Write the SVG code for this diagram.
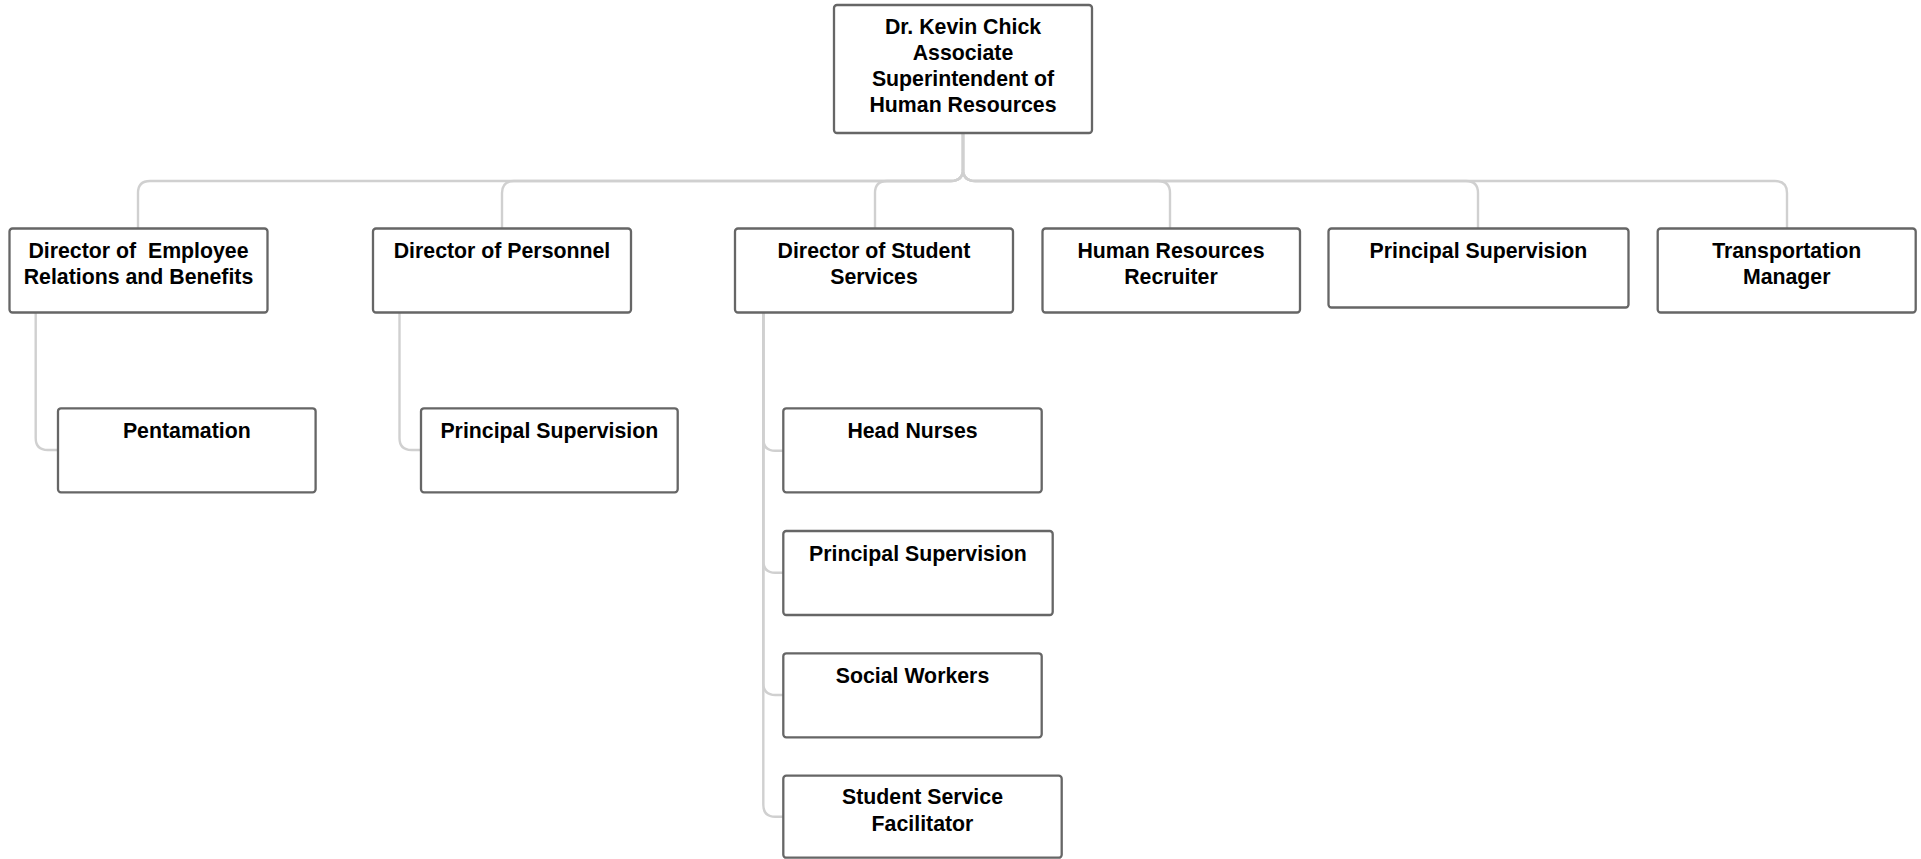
<svg xmlns="http://www.w3.org/2000/svg" width="1921" height="859" viewBox="0 0 1921 859">
<style>
.box{fill:#fff;stroke:#666;stroke-width:2.3}
.c{fill:none;stroke:#d0d0d0;stroke-width:2.4}
text{font-family:"Liberation Sans",Arial,sans-serif;font-weight:bold;font-size:21.3px;fill:#000;text-anchor:middle;white-space:pre}
</style>
<rect width="1921" height="859" fill="#fff"/>
<g id="connectors">
<path class="c" d="M963 133V169Q963 181 951 181H150Q138 181 138 193V228"/>
<path class="c" d="M963 133V169Q963 181 951 181H514Q502 181 502 193V228"/>
<path class="c" d="M963 133V169Q963 181 951 181H887Q875 181 875 193V228"/>
<path class="c" d="M963 133V169Q963 181 975 181H1158Q1170 181 1170 193V228"/>
<path class="c" d="M963 133V169Q963 181 975 181H1466Q1478 181 1478 193V228"/>
<path class="c" d="M963 133V169Q963 181 975 181H1775Q1787 181 1787 193V228"/>
<path class="c" d="M35.7 313V438Q35.7 450 47.7 450H58"/>
<path class="c" d="M399.5 313V438Q399.5 450 411.5 450H421"/>
<path class="c" d="M763.3 313V438.7Q763.3 450.7 775.3 450.7H783"/>
<path class="c" d="M763.3 313V560.7Q763.3 572.7 775.3 572.7H783"/>
<path class="c" d="M763.3 313V683Q763.3 695 775.3 695H783"/>
<path class="c" d="M763.3 313V804.7Q763.3 816.7 775.3 816.7H783"/>
</g>
<g id="n-top"><rect class="box" x="834" y="5" width="258" height="128" rx="3"/>
<text x="963" y="34.3">Dr. Kevin Chick</text><text x="963" y="60">Associate</text><text x="963" y="86">Superintendent of</text><text x="963" y="111.7">Human Resources</text></g>
<g id="n-employee"><rect class="box" x="9.5" y="228.5" width="258" height="84" rx="3"/>
<text x="138.5" y="257.7">Director of  Employee</text><text x="138.5" y="283.5">Relations and Benefits</text></g>
<g id="n-personnel"><rect class="box" x="373" y="228.5" width="258" height="84" rx="3"/>
<text x="502" y="257.7">Director of Personnel</text></g>
<g id="n-student"><rect class="box" x="735" y="228.5" width="278" height="84" rx="3"/>
<text x="874" y="257.7">Director of Student</text><text x="874" y="283.5">Services</text></g>
<g id="n-recruiter"><rect class="box" x="1042.5" y="228.5" width="257.5" height="84" rx="3"/>
<text x="1171" y="257.7">Human Resources</text><text x="1171" y="283.5">Recruiter</text></g>
<g id="n-principal-top"><rect class="box" x="1328.5" y="228.5" width="300" height="79" rx="3"/>
<text x="1478.5" y="257.7">Principal Supervision</text></g>
<g id="n-transport"><rect class="box" x="1657.7" y="228.5" width="258" height="84" rx="3"/>
<text x="1786.7" y="257.7">Transportation</text><text x="1786.7" y="283.5">Manager</text></g>
<g id="n-pentamation"><rect class="box" x="58" y="408.3" width="257.6" height="84" rx="3"/>
<text x="186.8" y="438.3">Pentamation</text></g>
<g id="n-principal-personnel"><rect class="box" x="421" y="408.3" width="256.7" height="84" rx="3"/>
<text x="549.3" y="438.3">Principal Supervision</text></g>
<g id="n-nurses"><rect class="box" x="783.3" y="408.3" width="258.4" height="84" rx="3"/>
<text x="912.5" y="438.3">Head Nurses</text></g>
<g id="n-principal-student"><rect class="box" x="783.3" y="531" width="269.4" height="84" rx="3"/>
<text x="918" y="561">Principal Supervision</text></g>
<g id="n-social"><rect class="box" x="783.3" y="653.3" width="258.4" height="84" rx="3"/>
<text x="912.5" y="682.7">Social Workers</text></g>
<g id="n-facilitator"><rect class="box" x="783.3" y="775.7" width="278.4" height="82" rx="3"/>
<text x="922.5" y="804.3">Student Service</text><text x="922.5" y="830.7">Facilitator</text></g>
</svg>
